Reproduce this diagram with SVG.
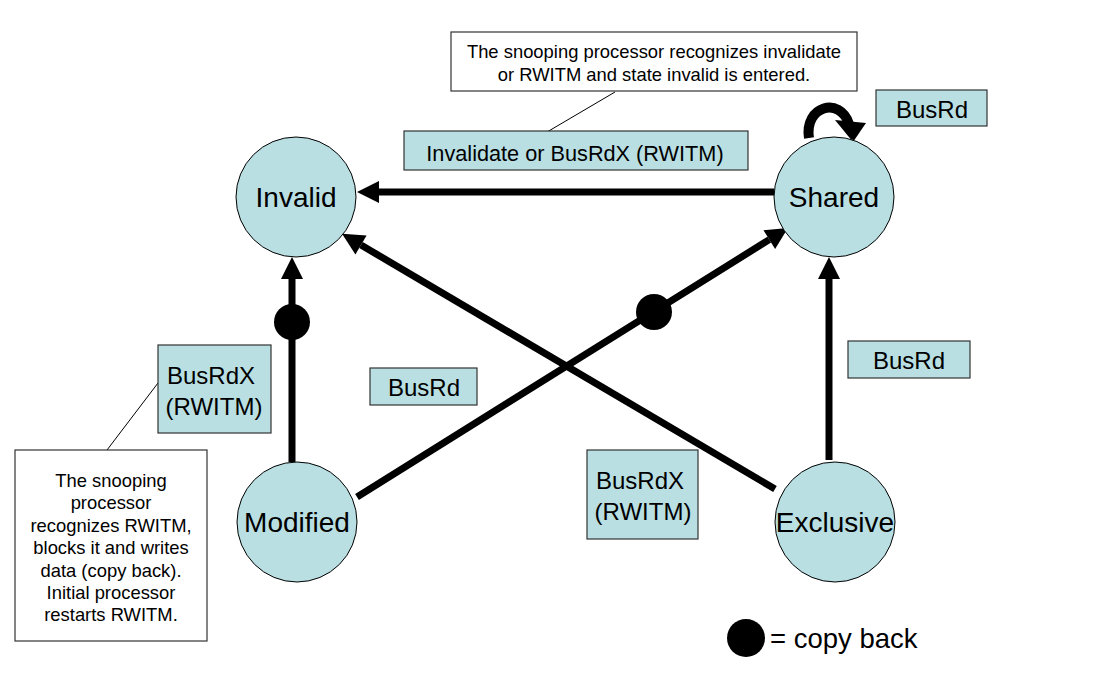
<svg xmlns="http://www.w3.org/2000/svg" width="1101" height="692" viewBox="0 0 1101 692">
<style>
.state{fill:#b9dfe2;stroke:#000;stroke-width:1}
.st{font-family:"Liberation Sans",Arial,sans-serif;font-size:28px;fill:#000;text-anchor:middle}
.lbl{fill:#b9dfe2;stroke:#333;stroke-width:1.2}
.lt{font-family:"Liberation Sans",Arial,sans-serif;font-size:24px;fill:#000;text-anchor:middle}
.note{fill:#fff;stroke:#333;stroke-width:1.2}
.nt{font-family:"Liberation Sans",Arial,sans-serif;font-size:18.4px;fill:#000;text-anchor:middle}
.edge{stroke:#000;stroke-width:7;fill:none}
.thin{stroke:#000;stroke-width:1;fill:none}
</style>
<defs>
<marker id="ah" markerUnits="userSpaceOnUse" markerWidth="24" markerHeight="24" viewBox="0 -12 23 24" refX="0" refY="0" orient="auto">
<path d="M0,-11 L22,0 L0,11 z" fill="#000"/>
</marker>
</defs>
<rect width="1101" height="692" fill="#fff"/>
<g id="connectors">
<line class="edge" x1="774" y1="192" x2="379" y2="192" marker-end="url(#ah)"/>
<line class="edge" x1="775" y1="489" x2="361" y2="245" marker-end="url(#ah)"/>
<line class="edge" x1="357" y1="497" x2="769.3" y2="239.6" marker-end="url(#ah)"/>
<line class="edge" x1="292" y1="462" x2="292" y2="279" marker-end="url(#ah)"/>
<line class="edge" x1="829" y1="460" x2="829" y2="279" marker-end="url(#ah)"/>
<circle cx="292" cy="322" r="18" fill="#000"/>
<circle cx="654" cy="312" r="18" fill="#000"/>
<path d="M809,138 C804,106 840,96 849,124" stroke="#000" stroke-width="10" fill="none"/>
<polygon points="835,120 866,123 853,142" fill="#000"/>
<line class="thin" x1="615" y1="92" x2="547" y2="132"/>
<line class="thin" x1="107" y1="450" x2="158" y2="383"/>
</g>
<g id="node-invalid">
<circle class="state" cx="296" cy="197" r="60"/>
<text class="st" x="296" y="207">Invalid</text>
</g>
<g id="node-shared">
<circle class="state" cx="834" cy="197" r="60"/>
<text class="st" x="834" y="207">Shared</text>
</g>
<g id="node-modified">
<circle class="state" cx="297" cy="522" r="60"/>
<text class="st" x="297" y="532">Modified</text>
</g>
<g id="node-exclusive">
<circle class="state" cx="835" cy="522" r="60"/>
<text class="st" x="835" y="532">Exclusive</text>
</g>
<g id="label-invalidate">
<rect class="lbl" x="404" y="131" width="344" height="39"/>
<text class="lt" x="575" y="161" style="font-size:21.7px">Invalidate or BusRdX (RWITM)</text>
</g>
<g id="label-busrd-loop">
<rect class="lbl" x="876" y="90" width="111" height="36"/>
<text class="lt" x="932" y="118">BusRd</text>
</g>
<g id="label-busrd-right">
<rect class="lbl" x="848" y="341" width="122" height="37"/>
<text class="lt" x="909" y="369">BusRd</text>
</g>
<g id="label-busrd-mid">
<rect class="lbl" x="370" y="368" width="107" height="37"/>
<text class="lt" x="424" y="396">BusRd</text>
</g>
<g id="label-busrdx-left">
<rect class="lbl" x="158" y="345" width="113" height="88"/>
<text class="lt" x="211" y="384">BusRdX</text>
<text class="lt" x="214" y="415">(RWITM)</text>
</g>
<g id="label-busrdx-mid">
<rect class="lbl" x="587" y="450" width="111" height="89"/>
<text class="lt" x="640" y="489">BusRdX</text>
<text class="lt" x="643" y="520">(RWITM)</text>
</g>
<g id="note-top">
<rect class="note" x="451" y="32" width="406" height="59"/>
<text class="nt" x="654" y="58">The snooping processor recognizes invalidate</text>
<text class="nt" x="654" y="81">or RWITM and state invalid is entered.</text>
</g>
<g id="note-left">
<rect class="note" x="15" y="450" width="192" height="191"/>
<text class="nt" x="111" y="487">The snooping</text>
<text class="nt" x="111" y="509">processor</text>
<text class="nt" x="111" y="532">recognizes RWITM,</text>
<text class="nt" x="111" y="554">blocks it and writes</text>
<text class="nt" x="111" y="577">data (copy back).</text>
<text class="nt" x="111" y="599">Initial processor</text>
<text class="nt" x="111" y="621">restarts RWITM.</text>
</g>
<g id="legend">
<circle cx="746" cy="638" r="19" fill="#000"/>
<text x="770" y="648" font-family="Liberation Sans, Arial, sans-serif" font-size="27.5" fill="#000">= copy back</text>
</g>
</svg>
